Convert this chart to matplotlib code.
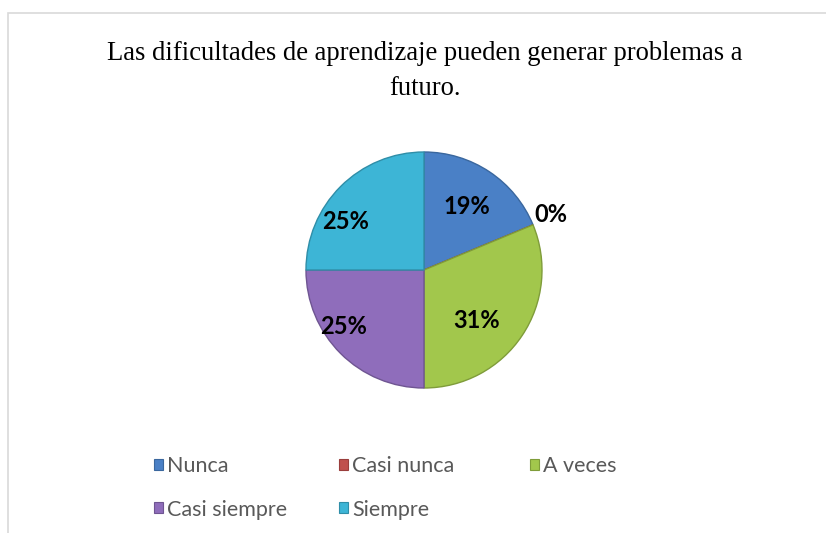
import matplotlib
matplotlib.use("Agg")
import matplotlib.pyplot as plt
from matplotlib.patches import Rectangle, Patch
import numpy as np

title = "Las dificultades de aprendizaje pueden generar problemas a\nfuturo."
categories = ["Nunca", "Casi nunca", "A veces", "Casi siempre", "Siempre"]
values = [3, 0, 5, 4, 4]
labels_pct = ["19%", "0%", "31%", "25%", "25%"]
colors = ["#4a80c6", "#c0504d", "#a2c74c", "#8f6dbb", "#3db5d6"]
edge_colors = ["#3a679e", "#9a3e3c", "#7f9c3a", "#6f5592", "#2f8ea8"]

W, H = 826, 533
fig = plt.figure(figsize=(W / 100, H / 100), dpi=100)
fig.patch.set_facecolor("white")

# chart area border (extends beyond right/bottom edges)
fig.patches.append(Rectangle((8 / W, -0.1), 1.2, 1.1 - 13 / H,
                             transform=fig.transFigure, fill=False,
                             edgecolor="#d9d9d9", lw=1.2))

fig.text(425 / W, 1 - 71 / H, title, ha="center", va="center",
         family="Liberation Serif", fontsize=19.2, color="black",
         linespacing=1.56)

cx, cy, r = 424, 270, 118
ax = fig.add_axes([(cx - r) / W, (H - cy - r) / H, 2 * r / W, 2 * r / H])
wedges, _ = ax.pie(values, colors=colors, startangle=90, counterclock=False,
                   radius=1.0, wedgeprops=dict(linewidth=1.0))
for w, ec in zip(wedges, edge_colors):
    w.set_edgecolor(ec)
ax.set_xlim(-1, 1)
ax.set_ylim(-1, 1)
ax.set_aspect("equal")
ax.axis("off")

# label placement (distance, angle offset in degrees) per slice
label_place = [(0.65, 0), (1.17, 1), (0.62, -10), (0.83, -10), (0.78, 13)]
total = sum(values)
start = 90.0
for v, lab, (d, off) in zip(values, labels_pct, label_place):
    span = 360.0 * v / total
    mid = np.deg2rad(start - span / 2 + off)
    start -= span
    ax.text(d * np.cos(mid), d * np.sin(mid), lab, ha="center", va="center",
            family="Lato", fontweight="bold", fontsize=17, color="black")

handles = [Patch(facecolor=c, edgecolor=ec, lw=0.8) for c, ec in zip(colors, edge_colors)]
# Excel-style legend: fixed-width columns, filled row by row
columns = [[0, 3], [1, 4], [2]]
col_x = [139, 324, 515]
for xs, idx in zip(col_x, columns):
    fig.legend([handles[i] for i in idx], [categories[i] for i in idx],
               loc="upper left", bbox_to_anchor=(xs / W, 1 - 441 / H),
               frameon=False, handlelength=0.42, handleheight=0.42,
               handletextpad=0.2, labelspacing=1.09, borderpad=0.2,
               prop=dict(family="Lato", size=15.5), labelcolor="#595959")

fig.savefig("out.png", dpi=100, facecolor="white")
